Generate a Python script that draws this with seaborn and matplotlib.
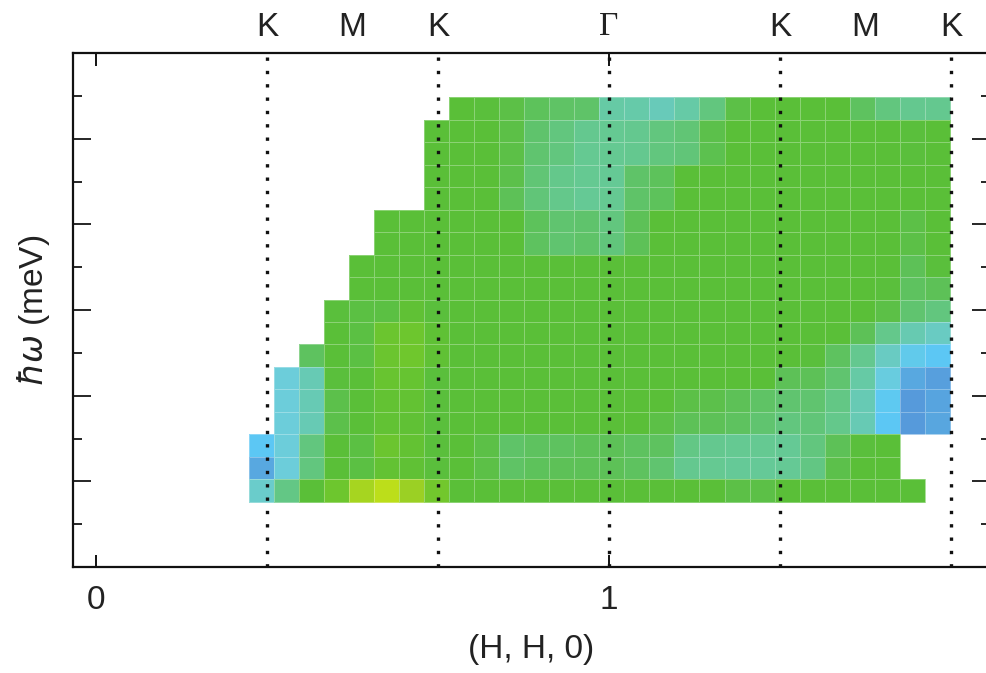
import numpy as np
import matplotlib
matplotlib.use("Agg")
import matplotlib.pyplot as plt
from matplotlib.colors import LinearSegmentedColormap
import seaborn as sns

nan = np.nan

# momentum bins along (H, H, 0): left edge of the first bin and bin width
h_start = 0.298
h_step = 0.0488
# energy bins (meV): upper edge of the top row and bin height
e_top = 10.97
e_step = 0.525

# normalized scattering intensity, highest-energy row first, 28 momentum bins per row
intensity = [
    [nan, nan, nan, nan, nan, nan, nan, nan, .58, .575, .565, .545, .535, .53, .42, .41, .37, .415, .50, .565, .58, .58, .58, .58, .54, .50, .47, .47],
    [nan, nan, nan, nan, nan, nan, nan, .58, .58, .58, .565, .525, .50, .47, .465, .47, .50, .515, .56, .58, .58, .58, .58, .58, .58, .58, .575, .58],
    [nan, nan, nan, nan, nan, nan, nan, .58, .58, .58, .565, .52, .50, .465, .465, .47, .50, .51, .555, .58, .58, .58, .58, .58, .58, .58, .575, .58],
    [nan, nan, nan, nan, nan, nan, nan, .58, .58, .58, .56, .515, .48, .465, .46, .53, .545, .58, .58, .58, .58, .58, .58, .58, .58, .58, .58, .58],
    [nan, nan, nan, nan, nan, nan, nan, .58, .58, .58, .55, .51, .48, .46, .465, .53, .545, .58, .58, .58, .58, .58, .58, .58, .58, .58, .58, .58],
    [nan, nan, nan, nan, nan, .58, .58, .58, .58, .58, .58, .545, .52, .525, .50, .55, .58, .58, .58, .58, .58, .58, .58, .58, .58, .58, .565, .58],
    [nan, nan, nan, nan, nan, .58, .58, .58, .58, .58, .58, .54, .52, .53, .505, .55, .58, .58, .58, .58, .58, .58, .58, .58, .58, .58, .565, .58],
    [nan, nan, nan, nan, .58, .58, .58, .58, .58, .58, .58, .58, .58, .58, .58, .58, .58, .58, .58, .58, .58, .58, .58, .58, .58, .58, .55, .575],
    [nan, nan, nan, nan, .58, .58, .58, .58, .58, .58, .58, .58, .58, .58, .58, .58, .58, .58, .58, .58, .58, .58, .58, .58, .58, .575, .54, .55],
    [nan, nan, nan, .575, .57, .57, .62, .575, .58, .58, .58, .58, .58, .58, .58, .58, .58, .58, .58, .58, .58, .58, .58, .58, .58, .565, .52, .50],
    [nan, nan, nan, .58, .57, .69, .70, .61, .58, .58, .58, .58, .58, .58, .58, .58, .58, .58, .58, .58, .58, .58, .58, .58, .55, .48, .39, .35],
    [nan, nan, .54, .58, .57, .69, .71, .62, .58, .58, .58, .58, .58, .58, .58, .58, .58, .58, .58, .58, .58, .58, .575, .54, .47, .35, .24, .21],
    [nan, .30, .38, .575, .58, .67, .66, .575, .58, .58, .58, .58, .58, .58, .58, .58, .58, .58, .58, .58, .58, .55, .55, .52, .42, .28, .11, .07],
    [nan, .30, .38, .56, .58, .64, .64, .575, .58, .58, .58, .58, .58, .58, .58, .58, .58, .565, .56, .55, .535, .52, .52, .49, .38, .22, .04, .09],
    [nan, .30, .38, .56, .58, .63, .62, .575, .58, .58, .58, .58, .58, .58, .58, .58, .565, .55, .55, .54, .52, .50, .51, .48, .38, .21, .04, .10],
    [.21, .30, .50, .58, .57, .69, .64, .575, .58, .565, .53, .54, .54, .55, .55, .54, .54, .49, .47, .465, .465, .46, .50, .55, .575, .58, nan, nan],
    [.11, .30, .50, .58, .57, .64, .62, .575, .58, .565, .535, .545, .55, .55, .55, .54, .52, .47, .465, .455, .455, .46, .495, .56, .58, .58, nan, nan],
    [.33, .49, .58, .70, .90, .98, .86, .72, .58, .58, .58, .58, .58, .58, .58, .58, .58, .58, .58, .565, .565, .58, .58, .58, .58, .58, .58, nan],
]

# high-symmetry points along the cut
point_labels = ["K", "M", "K", "\u0393", "K", "M", "K"]
point_h = [1 / 3, 1 / 2, 2 / 3, 1, 4 / 3, 3 / 2, 5 / 3]
dotted_h = [1 / 3, 2 / 3, 1, 4 / 3, 5 / 3]

# axis ranges
h_range = (-0.0448, 1.7427)
e_range = (0, 12)
h_ticks = [0, 1]
e_major = [2, 4, 6, 8, 10]
e_minor = [1, 3, 5, 7, 9, 11]

sns.set_theme(style="white")
plt.rcParams["font.family"] = ["Liberation Sans", "DejaVu Sans"]
plt.rcParams["mathtext.fontset"] = "dejavusans"

cmap = LinearSegmentedColormap.from_list(
    "bgy",
    [
        (0.00, "#5592d8"),
        (0.11, "#58a8e0"),
        (0.21, "#5cc8f4"),
        (0.30, "#6ccdd9"),
        (0.38, "#67cab4"),
        (0.46, "#65c995"),
        (0.50, "#62c680"),
        (0.54, "#5ec260"),
        (0.58, "#5abf38"),
        (0.70, "#6cc62e"),
        (0.86, "#9ad024"),
        (1.00, "#c2e018"),
    ],
)


def hx(h):
    """(H, H, 0) value -> heatmap column coordinate."""
    return (np.asarray(h, dtype=float) - h_start) / h_step


def ey(e):
    """Energy (meV) -> heatmap row coordinate (rows run downward)."""
    return (e_top - np.asarray(e, dtype=float)) / e_step


fig = plt.figure(figsize=(9.87, 6.73), dpi=100)
ax = fig.add_axes([0.074, 0.1575, 0.929, 0.7637])

sns.heatmap(
    np.array(intensity),
    ax=ax,
    cmap=cmap,
    vmin=0,
    vmax=1,
    cbar=False,
    xticklabels=False,
    yticklabels=False,
    linewidths=0.7,
    linecolor=(1, 1, 1, 0.3),
)

ax.set_xlim(hx(h_range[0]), hx(h_range[1]))
ax.set_ylim(ey(e_range[0]), ey(e_range[1]))

for s in ax.spines.values():
    s.set_visible(True)
    s.set_color("#111111")
    s.set_linewidth(1.6)

ax.set_xticks(hx(h_ticks))
ax.set_xticklabels([str(t) for t in h_ticks], fontsize=24, color="#222222")
ax.set_yticks(ey(e_major))
ax.set_yticks(ey(e_minor), minor=True)
ax.set_yticklabels([])
ax.tick_params(axis="x", which="major", direction="in", length=9, width=1.4,
               top=True, bottom=True, pad=13, colors="#111111", labelcolor="#222222")
ax.tick_params(axis="y", which="major", direction="in", length=13, width=1.4,
               left=True, right=True, labelleft=False)
ax.tick_params(axis="y", which="minor", direction="in", length=6.5, width=1.4,
               left=True, right=True, labelleft=False)

for h in dotted_h:
    ax.axvline(hx(h), color="#111111", lw=2.4, ls=(0, (1, 3.0)),
               dash_capstyle="butt", zorder=5)

for lab, h in zip(point_labels, point_h):
    fam = ["Liberation Serif", "DejaVu Serif"] if lab == "\u0393" else ["Liberation Sans", "DejaVu Sans"]
    ax.text(hx(h), 1.0506, lab, transform=ax.get_xaxis_transform(),
            ha="center", va="center", fontsize=24, color="#222222", family=fam)

ax.set_xlabel("(H, H, 0)", fontsize=24, color="#222222", labelpad=13)
ax.set_ylabel(r"$\hbar\omega$ (meV)", fontsize=24, color="#222222", labelpad=15)

fig.savefig("out.png", dpi=100, facecolor="white")
